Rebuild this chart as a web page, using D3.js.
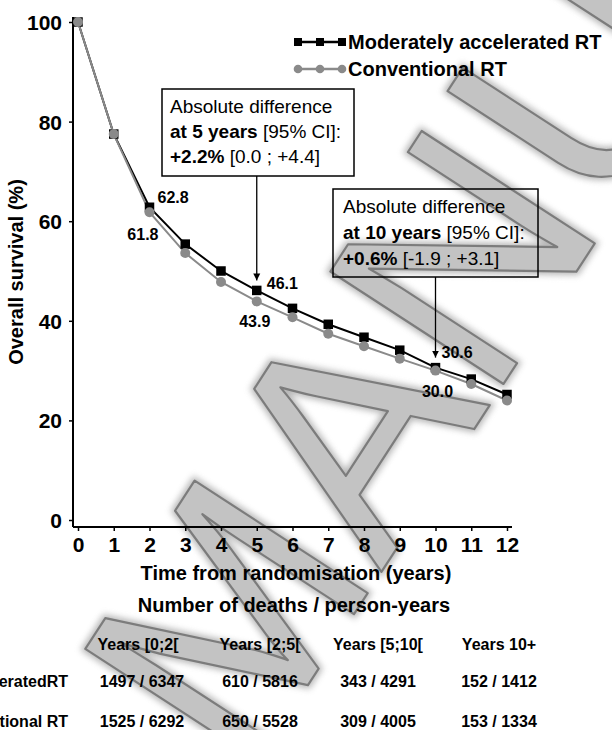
<!DOCTYPE html>
<html>
<head>
<meta charset="utf-8">
<script src="https://cdn.jsdelivr.net/npm/d3@7"></script>
<style>
  html, body { margin: 0; padding: 0; background: #fff; }
  svg { display: block; }
  text { font-family: "Liberation Sans", Arial, Helvetica, sans-serif; }
</style>
</head>
<body>
<svg id="chart" width="612" height="730"></svg>
<script>
// ---------- data ----------
const years = [0, 1, 2, 3, 4, 5, 6, 7, 8, 9, 10, 11, 12];
const accelerated = [100, 77.5, 62.8, 55.4, 50.0, 46.1, 42.5, 39.3, 36.7, 34.1, 30.6, 28.3, 25.2];
const conventional = [100, 77.5, 61.8, 53.6, 47.8, 43.9, 40.7, 37.4, 34.9, 32.4, 30.0, 27.3, 24.0];
const seriesNames = ["Moderately  accelerated  RT", "Conventional  RT"];
const yTicks = [0, 20, 40, 60, 80, 100];
const labelledYears = [2, 5, 10];
const tableHeaders = ["Years [0;2[", "Years [2;5[", "Years [5;10[", "Years 10+"];
const tableRowNames = ["Moderately acceleratedRT", "Conventional RT"];
const tableAccelerated = ["1497 / 6347", "610 / 5816", "343 / 4291", "152 / 1412"];
const tableConventional = ["1525 / 6292", "650 / 5528", "309 / 4005", "153 / 1334"];
const diffYears = [5, 10];
const diffLines = [
  [["Absolute difference", ""], ["at 5 years", " [95% CI]:"], ["+2.2%", " [0.0 ; +4.4]"]],
  [["Absolute difference", ""], ["at 10 years", " [95% CI]:"], ["+0.6%", " [-1.9 ; +3.1]"]]
];
const watermarkText = "MANUSCRIPT";

// ---------- layout ----------
const svg = d3.select("#chart");
const x = d3.scaleLinear().domain([0, 12]).range([78, 507]);
const y = d3.scaleLinear().domain([0, 100]).range([520, 22]);
const BLACK = "#000", GREY = "#8a8a8a";

// ---------- watermark ----------
const defs = svg.append("defs");
const f = defs.append("filter").attr("id", "wmblur").attr("x", "-10%").attr("y", "-10%").attr("width", "120%").attr("height", "120%");
f.append("feGaussianBlur").attr("stdDeviation", 3);
const wm = svg.append("g").attr("transform", "translate(245,782) rotate(-57)");
wm.append("text").text(watermarkText).attr("font-size", 300)
  .attr("fill", "#9a9a9a").attr("stroke", "#9a9a9a").attr("stroke-width", 7)
  .attr("filter", "url(#wmblur)").attr("opacity", 0.7);
wm.append("text").text(watermarkText).attr("font-size", 300)
  .attr("fill", "#c3c3c3").attr("stroke", "#7c7c7c").attr("stroke-width", 2.2)
  .attr("stroke-linejoin", "round");

// ---------- axes ----------
const yAxis = svg.append("g").attr("transform", "translate(73,0)")
  .call(d3.axisLeft(y).tickValues(yTicks).tickSize(4).tickPadding(7).tickSizeOuter(0));
yAxis.select(".domain").attr("d", "M0,17V527").attr("stroke", BLACK).attr("stroke-width", 2);
yAxis.selectAll(".tick line").attr("stroke-width", 1.5);
yAxis.selectAll(".tick text").attr("font-size", 21).attr("font-weight", "bold")
  .attr("font-family", "Liberation Sans, Arial, sans-serif").attr("fill", BLACK).attr("dy", "0.36em");

const xAxis = svg.append("g").attr("transform", "translate(0,527)")
  .call(d3.axisBottom(x).tickValues(years).tickSize(4).tickPadding(6).tickSizeOuter(0));
xAxis.select(".domain").attr("d", "M73,0H512").attr("stroke", BLACK).attr("stroke-width", 2);
xAxis.selectAll(".tick line").attr("stroke-width", 1.5);
xAxis.selectAll(".tick text").attr("font-size", 21).attr("font-weight", "bold")
  .attr("font-family", "Liberation Sans, Arial, sans-serif").attr("fill", BLACK).attr("dy", "0.72em");

svg.append("text").attr("transform", "translate(23,272) rotate(-90)")
  .attr("text-anchor", "middle").attr("font-size", 20).attr("font-weight", "bold")
  .text("Overall  survival  (%)");
svg.append("text").attr("x", 296).attr("y", 580).attr("text-anchor", "middle")
  .attr("font-size", 20).attr("font-weight", "bold").text("Time from randomisation  (years)");
svg.append("text").attr("x", 294).attr("y", 612).attr("text-anchor", "middle")
  .attr("font-size", 20).attr("font-weight", "bold").text("Number of deaths / person-years");

// ---------- series ----------
const line = d3.line().x((d, i) => x(years[i])).y(d => y(d));
svg.append("path").datum(accelerated).attr("d", line)
  .attr("fill", "none").attr("stroke", BLACK).attr("stroke-width", 2);
svg.append("path").datum(conventional).attr("d", line)
  .attr("fill", "none").attr("stroke", GREY).attr("stroke-width", 2);
const sq = 9.5;
svg.append("g").selectAll("rect").data(accelerated).join("rect")
  .attr("x", (d, i) => x(years[i]) - sq / 2).attr("y", d => y(d) - sq / 2)
  .attr("width", sq).attr("height", sq).attr("fill", BLACK);
svg.append("g").selectAll("circle").data(conventional).join("circle")
  .attr("cx", (d, i) => x(years[i])).attr("cy", d => y(d)).attr("r", 5).attr("fill", GREY);

// value labels
const labelStyle = [
  { acc: [8, -4, "start"], con: [9, 28, "end"] },
  { acc: [10, -1, "start"], con: [-2, 26, "middle"] },
  { acc: [6, -10, "start"], con: [2, 26, "middle"] }
];
labelledYears.forEach((yr, k) => {
  const i = years.indexOf(yr);
  const s = labelStyle[k];
  svg.append("text").attr("x", x(yr) + s.acc[0]).attr("y", y(accelerated[i]) + s.acc[1])
    .attr("text-anchor", s.acc[2]).attr("font-size", 16).attr("font-weight", "bold")
    .text(accelerated[i].toFixed(1));
  svg.append("text").attr("x", x(yr) + s.con[0]).attr("y", y(conventional[i]) + s.con[1])
    .attr("text-anchor", s.con[2]).attr("font-size", 16).attr("font-weight", "bold")
    .text(conventional[i].toFixed(1));
});

// ---------- difference boxes ----------
defs.append("marker").attr("id", "arrow").attr("viewBox", "0 0 10 10")
  .attr("refX", 10).attr("refY", 5).attr("markerWidth", 7).attr("markerHeight", 8)
  .attr("markerUnits", "userSpaceOnUse").attr("orient", "auto")
  .append("path").attr("d", "M0,0L10,5L0,10Z").attr("fill", BLACK);
const boxes = [
  { x: 162, y: 89, w: 192, h: 87, tx: 170, by: [113, 138, 163] },
  { x: 333, y: 189, w: 205, h: 88, tx: 343, by: [213, 239, 265] }
];
diffYears.forEach((yr, k) => {
  const b = boxes[k];
  const i = years.indexOf(yr);
  svg.append("rect").attr("x", b.x).attr("y", b.y).attr("width", b.w).attr("height", b.h)
    .attr("fill", "none").attr("stroke", BLACK).attr("stroke-width", 1.5);
  diffLines[k].forEach((parts, j) => {
    const t = svg.append("text").attr("x", b.tx).attr("y", b.by[j]).attr("font-size", 19);
    if (j === 0) t.append("tspan").text(parts[0]);
    else {
      t.append("tspan").attr("font-weight", "bold").text(parts[0]);
      t.append("tspan").text(parts[1]);
    }
  });
  svg.append("line").attr("x1", x(yr)).attr("x2", x(yr))
    .attr("y1", b.y + b.h).attr("y2", y(accelerated[i]) - 10)
    .attr("stroke", BLACK).attr("stroke-width", 1.3).attr("marker-end", "url(#arrow)");
});

// ---------- legend ----------
const legend = [
  { name: seriesNames[0], color: BLACK, shape: "square", ly: 42, ty: 49 },
  { name: seriesNames[1], color: GREY, shape: "circle", ly: 69, ty: 76 }
];
legend.forEach(l => {
  svg.append("line").attr("x1", 296).attr("x2", 344).attr("y1", l.ly).attr("y2", l.ly)
    .attr("stroke", l.color).attr("stroke-width", 2.5);
  [298, 320, 342].forEach(cx => {
    if (l.shape === "square") svg.append("rect").attr("x", cx - 4).attr("y", l.ly - 4)
      .attr("width", 8).attr("height", 8).attr("fill", l.color);
    else svg.append("circle").attr("cx", cx).attr("cy", l.ly).attr("r", 4.3).attr("fill", l.color);
  });
  svg.append("text").attr("x", 348).attr("y", l.ty).attr("font-size", 20)
    .attr("font-weight", "bold").text(l.name);
});

// ---------- table ----------
const colX = [138, 260, 378, 499];
tableHeaders.forEach((h, c) => svg.append("text").attr("x", colX[c]).attr("y", 650)
  .attr("text-anchor", "middle").attr("font-size", 16).attr("font-weight", "bold").text(h));
[tableAccelerated, tableConventional].forEach((row, r) => {
  const yy = [687, 727][r];
  svg.append("text").attr("x", 68).attr("y", yy).attr("text-anchor", "end")
    .attr("font-size", 16).attr("font-weight", "bold").text(tableRowNames[r]);
  row.forEach((v, c) => svg.append("text").attr("x", colX[c] + (c === 0 ? 4 : 0)).attr("y", yy)
    .attr("text-anchor", "middle").attr("font-size", 16).attr("font-weight", "bold").text(v));
});
</script>
</body>
</html>
